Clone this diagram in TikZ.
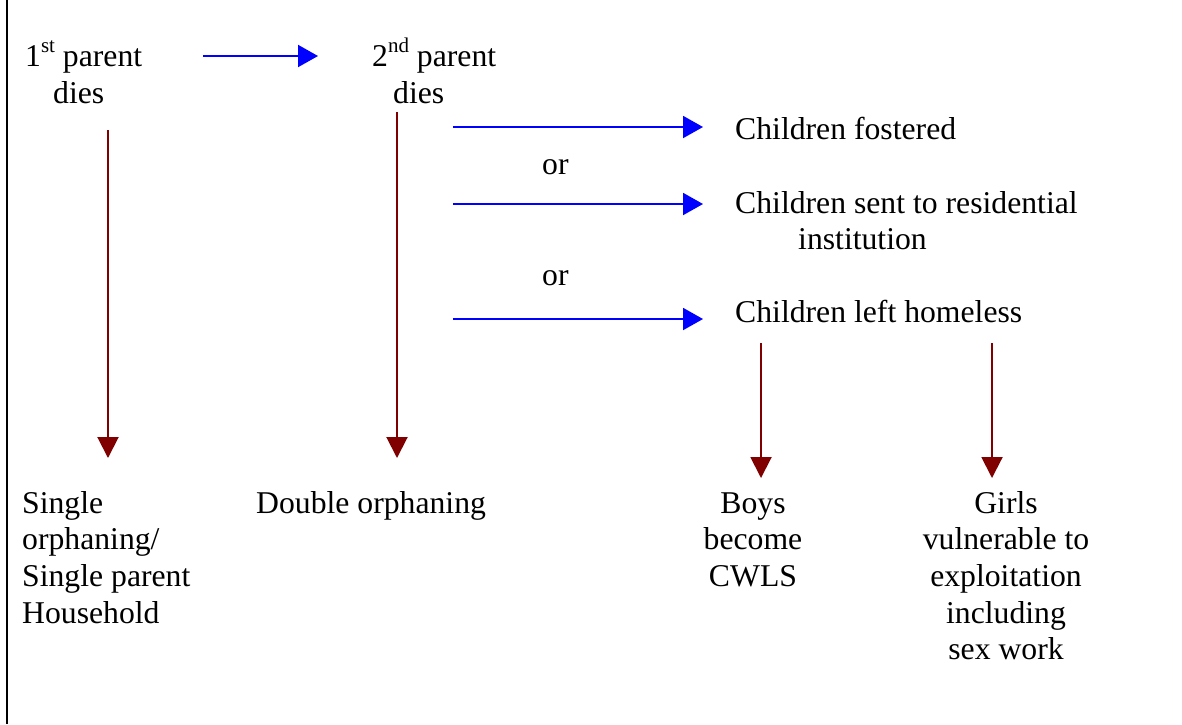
\documentclass[tikz,border=0pt]{standalone}
\usepackage{fontspec}
\setmainfont{Liberation Serif}
\usetikzlibrary{arrows.meta}
\definecolor{arrblue}{RGB}{0,0,255}
\definecolor{arrred}{RGB}{128,0,0}
\newcommand{\mysup}[1]{\raisebox{14pt}{\fontsize{21}{21}\selectfont #1}}
\begin{document}
\begin{tikzpicture}[x=1pt,y=-1pt,
  font=\fontsize{31.7}{36.7}\selectfont,
  txt/.style={inner sep=0pt, anchor=base west},
  ctxt/.style={inner sep=0pt, anchor=base},
  bluearrow/.style={draw=arrblue, line width=2pt, -{Triangle[length=20pt,width=22pt]}},
  redarrow/.style={draw=arrred, line width=2pt, -{Triangle[length=21pt,width=21pt]}}]
\useasboundingbox (0,0) rectangle (1182,724);
\draw[line width=2.5pt] (7,0) -- (7,724);

% texts
\node[txt] (p1) at (25,66.5) {\begin{tabular}[t]{@{}l@{}}1\mysup{st} parent\\\hspace*{28pt}dies\end{tabular}};
\node[txt] (p2) at (372,66.5) {\begin{tabular}[t]{@{}l@{}}2\mysup{nd} parent\\\hspace*{21pt}dies\end{tabular}};
\node[txt] (fost) at (735,139) {Children fostered};
\node[txt] (or1) at (542,174) {or};
\node[txt] (inst) at (735,213) {\begin{tabular}[t]{@{}l@{}}Children sent to residential\\\hspace*{63pt}institution\end{tabular}};
\node[txt] (or2) at (542,285) {or};
\node[txt] (home) at (735,322) {Children left homeless};
\node[txt] (single) at (22,513) {\begin{tabular}[t]{@{}l@{}}Single\\orphaning/\\Single parent\\Household\end{tabular}};
\node[txt] (double) at (256,513) {Double orphaning};
\node[ctxt] (boys) at (753,513) {\begin{tabular}[t]{@{}c@{}}Boys\\become\\CWLS\end{tabular}};
\node[ctxt] (girls) at (1006,513) {\begin{tabular}[t]{@{}c@{}}Girls\\vulnerable to\\exploitation\\including\\sex work\end{tabular}};

% connector end points
\coordinate (b1s) at (203,56);  \coordinate (b1e) at (318,56);
\coordinate (b2s) at (453,127); \coordinate (b2e) at (703,127);
\coordinate (b3s) at (453,204); \coordinate (b3e) at (703,204);
\coordinate (b4s) at (453,319); \coordinate (b4e) at (703,319);
\coordinate (r1s) at (108,130); \coordinate (r1e) at (108,458);
\coordinate (r2s) at (397,112); \coordinate (r2e) at (397,458);
\coordinate (r3s) at (761,343); \coordinate (r3e) at (761,478);
\coordinate (r4s) at (992,343); \coordinate (r4e) at (992,478);

\draw[bluearrow] (b1s) -- (b1e);
\draw[bluearrow] (b2s) -- (b2e);
\draw[bluearrow] (b3s) -- (b3e);
\draw[bluearrow] (b4s) -- (b4e);
\draw[redarrow] (r1s) -- (r1e);
\draw[redarrow] (r2s) -- (r2e);
\draw[redarrow] (r3s) -- (r3e);
\draw[redarrow] (r4s) -- (r4e);
\end{tikzpicture}
\end{document}
